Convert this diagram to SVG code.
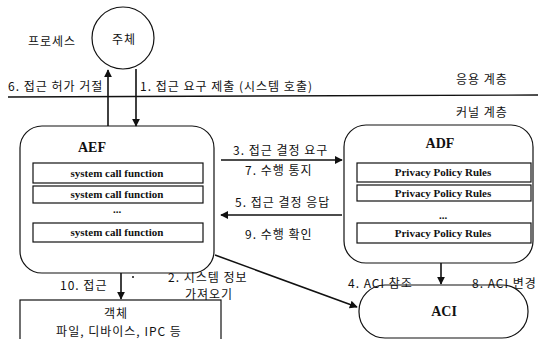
<svg xmlns="http://www.w3.org/2000/svg" width="538" height="339" viewBox="0 0 538 339">
<style>
.k{font-family:"Noto Sans CJK KR","Noto Sans",sans-serif;font-size:12px;letter-spacing:1px;fill:#111}
.s{font-family:"Liberation Serif",serif;font-weight:bold;fill:#111}
.box{fill:#fff;stroke:#111;stroke-width:1.2}
.ln{stroke:#111;stroke-width:1.6;fill:none}
</style>
<defs>
<marker id="ah" viewBox="0 0 10 10" refX="9" refY="5" markerWidth="8" markerHeight="8" markerUnits="userSpaceOnUse" orient="auto">
<path d="M0,0 L10,5 L0,10 z" fill="#111"/>
</marker>
</defs>
<rect width="538" height="339" fill="#fff"/>
<line x1="8" y1="97" x2="538" y2="95" stroke="#111" stroke-width="1.4"/>
<text class="k" x="28" y="46">프로세스</text>
<text class="k" x="456" y="84" font-size="13" letter-spacing="2">응용 계층</text>
<text class="k" x="456" y="117" font-size="13" letter-spacing="2">커널 계층</text>
<g id="subject">
<circle cx="123" cy="38" r="31" fill="#fff" stroke="#111" stroke-width="1.2"/>
<text class="k" x="124" y="44" font-size="17" letter-spacing="1" text-anchor="middle">주체</text>
</g>
<g id="aef">
<rect class="box" x="20" y="126" width="194" height="147" rx="22"/>
<text class="s" x="92" y="152" font-size="14" text-anchor="middle">AEF</text>
<rect class="box" x="33" y="163" width="170" height="20"/>
<text class="s" x="117" y="177" font-size="11" text-anchor="middle">system call function</text>
<rect class="box" x="33" y="186" width="170" height="17"/>
<text class="s" x="117" y="198" font-size="11" text-anchor="middle">system call function</text>
<text class="s" x="117" y="213" font-size="11" text-anchor="middle">...</text>
<rect class="box" x="33" y="223" width="170" height="19"/>
<text class="s" x="117" y="236" font-size="11" text-anchor="middle">system call function</text>
</g>
<g id="adf">
<rect class="box" x="344" y="125" width="189" height="138" rx="22"/>
<text class="s" x="440" y="148" font-size="14" text-anchor="middle">ADF</text>
<rect class="box" x="357" y="163" width="174" height="19"/>
<text class="s" x="443" y="176" font-size="11" text-anchor="middle">Privacy Policy Rules</text>
<rect class="box" x="357" y="185" width="174" height="16"/>
<text class="s" x="443" y="197" font-size="11" text-anchor="middle">Privacy Policy Rules</text>
<text class="s" x="443" y="219" font-size="11" text-anchor="middle">...</text>
<rect class="box" x="357" y="223" width="174" height="20"/>
<text class="s" x="443" y="237" font-size="11" text-anchor="middle">Privacy Policy Rules</text>
</g>
<g id="aci">
<rect class="box" x="359" y="285" width="169" height="53" rx="26"/>
<text class="s" x="444" y="316" font-size="14" text-anchor="middle">ACI</text>
</g>
<g id="object">
<rect class="box" x="20" y="300" width="201" height="45"/>
<text class="k" x="116" y="318" font-size="16" text-anchor="middle">객체</text>
<text class="k" x="119" y="336" font-size="13" letter-spacing="1.5" text-anchor="middle">파일, 디바이스, IPC 등</text>
</g>
<g id="connectors">
<line class="ln" x1="108" y1="126" x2="108" y2="70" marker-end="url(#ah)"/>
<line class="ln" x1="136" y1="69" x2="136" y2="126" marker-end="url(#ah)"/>
<line class="ln" x1="221" y1="160" x2="342" y2="160" marker-end="url(#ah)"/>
<line class="ln" x1="342" y1="215" x2="221" y2="215" marker-end="url(#ah)"/>
<line class="ln" x1="121" y1="273" x2="121" y2="299" marker-end="url(#ah)"/>
<line class="ln" x1="215" y1="255" x2="357" y2="307" marker-end="url(#ah)"/>
<line class="ln" x1="441" y1="263" x2="441" y2="284" marker-end="url(#ah)"/>
<circle cx="133" cy="277" r="1" fill="#111"/>
<text class="k" x="8" y="91">6. 접근 허가 거절</text>
<text class="k" x="140" y="91">1. 접근 요구 제출 (시스템 호출)</text>
<text class="k" x="233" y="155">3. 접근 결정 요구</text>
<text class="k" x="245" y="175">7. 수행 통지</text>
<text class="k" x="235" y="207">5. 접근 결정 응답</text>
<text class="k" x="245" y="239">9. 수행 확인</text>
<text class="k" x="60" y="290">10. 접근</text>
<text class="k" x="168" y="282">2. 시스템 정보</text>
<text class="k" x="185" y="299">가져오기</text>
<text class="k" x="348" y="288">4. ACI 참조</text>
<text class="k" x="472" y="288">8. ACI 변경</text>
</g>
</svg>
